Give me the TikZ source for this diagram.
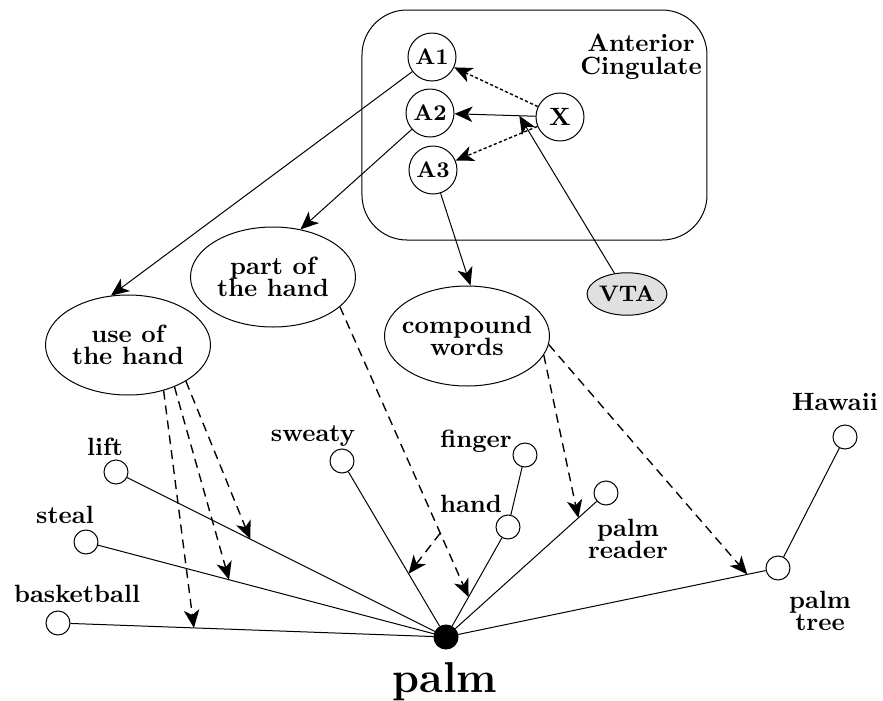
\documentclass[tikz,border=0pt]{standalone}
\usepackage{tikz}
\usetikzlibrary{arrows.meta,shapes.geometric}

\begin{document}
\begin{tikzpicture}[x=0.4pt,y=-0.4pt,
  every node/.style={font=\bfseries},
  area/.style={draw,circle,minimum size=19.2pt,inner sep=0pt,font=\bfseries\small},
  sense/.style={draw,ellipse,minimum width=66pt,minimum height=40pt,inner xsep=-3pt,inner ysep=0pt,align=center},
  word/.style={draw,circle,minimum size=9.6pt,inner sep=0pt},
  lbl/.style={inner sep=0pt,anchor=base},
  ptr/.style={-{Stealth[length=7.2pt,width=6.2pt,inset=2pt]}},
  prime/.style={ptr,line width=0.55pt,dash pattern=on 3.6pt off 2.4pt},
  gate/.style={ptr,line width=0.55pt,dash pattern=on 1.3pt off 0.9pt}]
 \useasboundingbox (0,0) rectangle (883,701);
 % anterior cingulate
 \draw[rounded corners=18pt] (362,10) rectangle (707,240);
 \node[align=center] (cing) at (641,57) {Anterior\\[-3pt]Cingulate};
 \node[area] (a1) at (432,57) {A1};
 \node[area] (a2) at (430,113) {A2};
 \node[area] (a3) at (433,170) {A3};
 \node[area,font=\bfseries] (x) at (560,117) {X};
 \node[draw,ellipse,fill=black!12,minimum width=30pt,minimum height=17pt,inner sep=0pt,font=\bfseries\small] (vta) at (627,294) {VTA};
 % senses
 \node[sense] (use) at (128,345) {use of\\[-3pt]the hand};
 \node[sense] (part) at (273,277) {part of\\[-3pt]the hand};
 \node[sense] (comp) at (467,336) {compound\\[-3pt]words};
 % words
 \node[word] (lift) at (116,472) {};
 \node[word] (steal) at (86,542) {};
 \node[word] (bball) at (58,623) {};
 \node[word] (sweaty) at (342,461) {};
 \node[word] (finger) at (525,455) {};
 \node[word] (hand) at (508,527) {};
 \node[word] (reader) at (606,493) {};
 \node[word] (tree) at (778,568) {};
 \node[word] (hawaii) at (845,437) {};
 \node[word,fill] (palm) at (446,637) {};
 \node[lbl] (lift-t) at (105,455) {lift};
 \node[lbl] (steal-t) at (65,523) {steal};
 \node[lbl] (bball-t) at (77,602) {basketball};
 \node[lbl] (sweaty-t) at (313,441) {sweaty};
 \node[lbl] (finger-t) at (476,447) {finger};
 \node[lbl] (hand-t) at (471,512) {hand};
 \node[align=center] (reader-t) at (628,539) {palm\\[-3pt]reader};
 \node[lbl] (hawaii-t) at (835,410) {Hawaii};
 \node[align=center] (tree-t) at (820,611) {palm\\[-3pt]tree};
 \node[lbl,font=\bfseries\LARGE] (palm-t) at (445,692) {palm};
 % links
 \draw (palm) -- coordinate[pos=0.66] (bball-in) (bball);
 \draw (palm) -- coordinate[pos=0.61] (steal-in) (steal);
 \draw (palm) -- coordinate[pos=0.60] (lift-in) (lift);
 \draw (palm) -- coordinate[pos=0.34] (sweaty-in) (sweaty);
 \draw (palm) -- coordinate[pos=0.33] (hand-in) (hand);
 \draw (palm) -- coordinate[pos=0.87] (reader-in) (reader);
 \draw (palm) -- coordinate[pos=0.94] (tree-in) (tree);
 \draw (hand) -- (finger);
 \draw (tree) -- (hawaii);
 \draw[ptr] (a1) -- (use.109);
 \draw[ptr] (a2) -- (part.60);
 \draw[ptr] (a3) -- (comp.86);
 \draw[gate] (x) -- (a1);
 \draw[ptr] (x) -- coordinate[pos=0.2] (x-a2) (a2);
 \draw[gate] (x) -- (a3);
 \draw[ptr] (vta) -- (x-a2);
 \draw[prime] (use.-52) -- (bball-in);
 \draw[prime] (use.-42) -- (steal-in);
 \draw[prime] (use.-32) -- (lift-in);
 \draw[prime] (part.-24) -- coordinate[pos=0.78] (fork) (hand-in);
 \draw[prime] (fork) -- (sweaty-in);
 \draw[prime] (comp.-14) -- (reader-in);
 \draw[prime] (comp.-6) -- (tree-in);
\end{tikzpicture}
\end{document}
